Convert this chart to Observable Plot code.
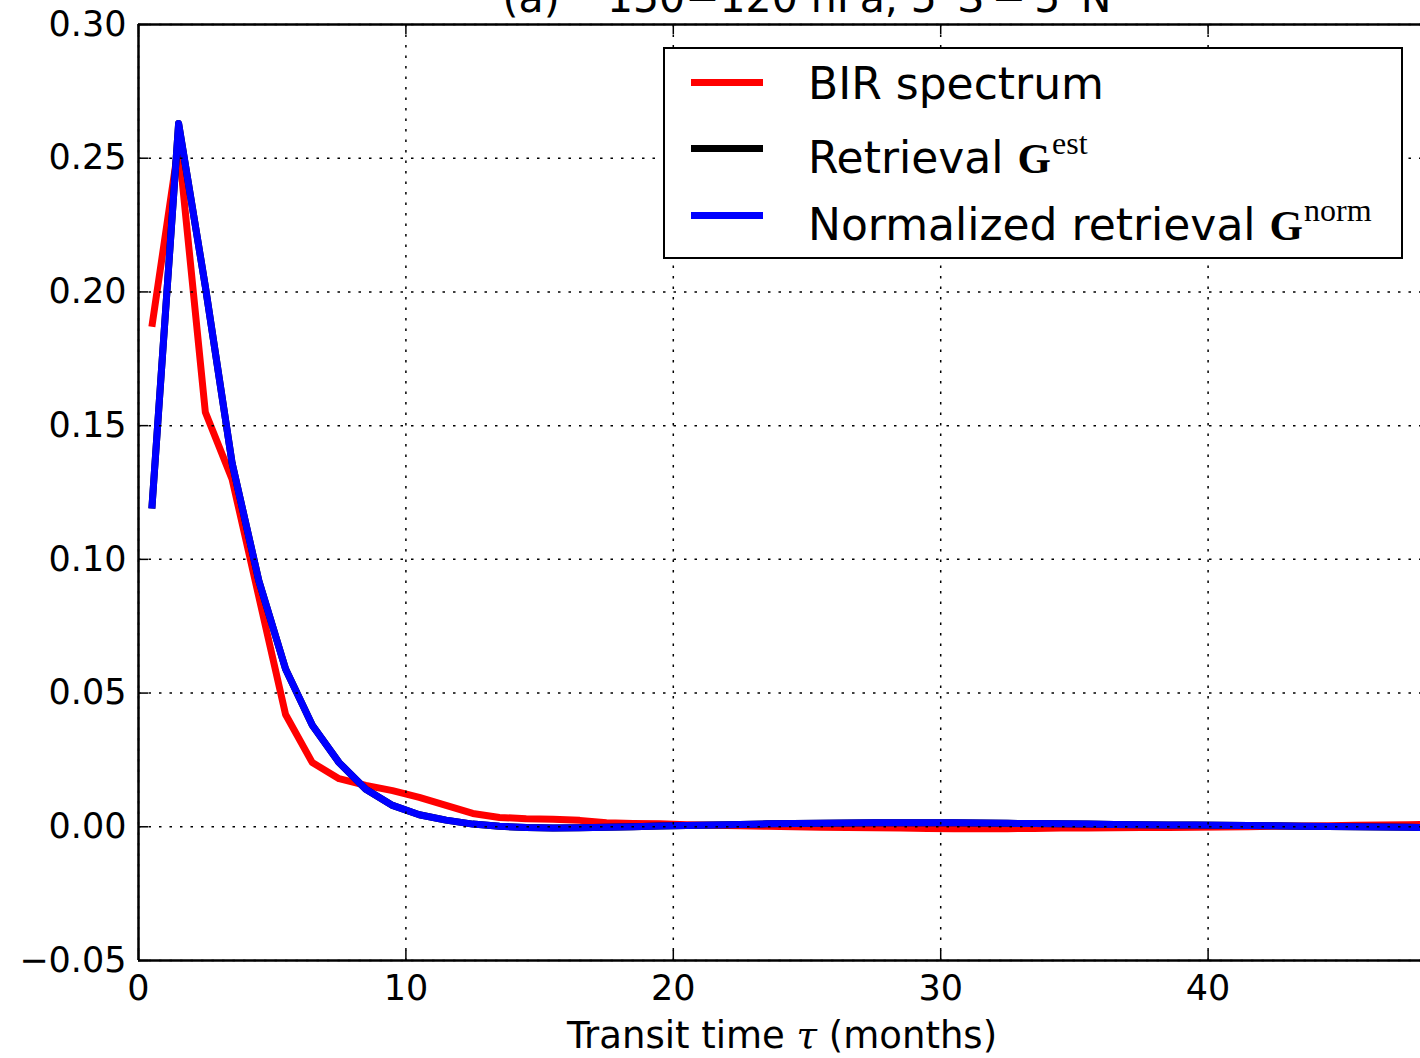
<!DOCTYPE html>
<html>
<head>
<meta charset="utf-8">
<script src="https://cdn.jsdelivr.net/npm/d3@7"></script>
<script src="https://cdn.jsdelivr.net/npm/@observablehq/plot@0.6"></script>
<style>
  html, body { margin: 0; padding: 0; background: #fff; overflow: hidden; width: 1420px; height: 1058px; }
  #wrap { position: relative; width: 1420px; height: 1058px; overflow: hidden; font-family: "DejaVu Sans", sans-serif; }
  #chart { position: absolute; left: 0; top: 0; width: 1480px; }
  #chart svg { max-width: none !important; width: 1480px; height: 1058px; }
  .abs { position: absolute; white-space: nowrap; line-height: 1; }
  #xlabel { font-size: 37px; top: 1017px; left: 782px; transform: translateX(-50%); }
  #xlabel i { font-family: "DejaVu Serif", serif; font-style: italic; }
  #legend { position: absolute; left: 663px; top: 47px; width: 736px; height: 208px; border: 2.5px solid #000; background: #fff; }
  .lg-line { position: absolute; left: 26px; width: 72px; height: 7px; }
  .lg-text { position: absolute; left: 143px; font-size: 44px; line-height: 1; white-space: nowrap; }
  .G { font-family: "Liberation Serif", serif; font-weight: bold; font-size: 43px; margin-left: 14px; }
  .sup { font-family: "Liberation Serif", serif; font-size: 32px; vertical-align: 19px; margin-left: 1px; }
</style>
</head>
<body>
<div id="wrap">
  <div id="chart"></div>
  <div id="xlabel" class="abs">Transit time <i>τ</i> (months)</div>
  <div id="legend"></div>
</div>
<script>
// ---- data ----
const tau = [0.5,1.5,2.5,3.5,4.5,5.5,6.5,7.5,8.5,9.5,10.5,11.5,12.5,13.5,14.5,15.5,16.5,17.5,18.5,19.5,
             20.5,21.5,22.5,23.5,24.5,25.5,26.5,27.5,28.5,29.5,30.5,31.5,32.5,33.5,34.5,35.5,36.5,37.5,38.5,39.5,
             40.5,41.5,42.5,43.5,44.5,45.5,46.5,47.5,48.5,49.5];
const birSpectrum = [0.187,0.255,0.155,0.130,0.086,0.042,0.024,0.018,0.0155,0.0135,0.011,0.008,0.005,0.0035,0.003,0.0028,0.0024,0.0015,0.0012,0.0011,
             0.0008,0.0006,0.0004,0.0002,0.0,-0.0002,-0.0003,-0.0004,-0.0005,-0.0006,-0.0007,-0.0007,-0.0007,-0.0006,-0.0005,-0.0005,-0.0004,-0.0003,-0.0003,-0.0002,
             -0.0001,0.0,0.0002,0.0003,0.0004,0.0006,0.0007,0.0008,0.0009,0.001];
const retrievalEst = [0.119,0.263,0.202,0.136,0.092,0.059,0.038,0.024,0.014,0.008,0.0045,0.0025,0.001,0.0002,-0.0003,-0.0005,-0.0004,-0.0002,0.0,0.0003,
             0.0005,0.0007,0.0009,0.0011,0.0012,0.0013,0.0014,0.0015,0.0015,0.0015,0.0015,0.0014,0.0013,0.0012,0.0011,0.001,0.0009,0.0008,0.0007,0.0007,
             0.0006,0.0005,0.0004,0.0002,0.0001,0.0,-0.0001,-0.0002,-0.0003,-0.0003];
const retrievalNorm = [0.119,0.263,0.202,0.136,0.092,0.059,0.038,0.024,0.014,0.008,0.0045,0.0025,0.001,0.0002,-0.0003,-0.0005,-0.0004,-0.0002,0.0,0.0003,
             0.0005,0.0007,0.0009,0.0011,0.0012,0.0013,0.0014,0.0015,0.0015,0.0015,0.0015,0.0014,0.0013,0.0012,0.0011,0.001,0.0009,0.0008,0.0007,0.0007,
             0.0006,0.0005,0.0004,0.0002,0.0001,0.0,-0.0001,-0.0002,-0.0003,-0.0003];
const xTicks = [0,10,20,30,40];
const yTicks = [-0.05,0.00,0.05,0.10,0.15,0.20,0.25,0.30];
const seriesNames = ["BIR spectrum", "Retrieval", "Normalized retrieval"];
const seriesColors = ["#ff0000", "#000000", "#0000ff"];
const seriesSup = [null, "est", "norm"];
const titleText = "(a)\u00a0\u00a0\u00a0\u2009150\u2212120 hPa, 5\u00b0S\u2009\u2212\u20095\u00b0N";

// ---- layout ----
const W = 1480, H = 1058;
const mL = 138, mR = 5, mT = 24, mB = 98;
const plotW = W - mL - mR, plotH = H - mT - mB;
const tickLen = 10;

const rows = (vals) => tau.map((t, i) => ({t, v: vals[i]}));
const lineOpts = (c) => ({x: "t", y: "v", stroke: c, strokeWidth: 7, strokeLinecap: "butt", strokeLinejoin: "round"});

const chart = Plot.plot({
  width: W, height: H,
  marginLeft: mL, marginRight: mR, marginTop: mT, marginBottom: mB,
  style: {fontFamily: "DejaVu Sans", background: "white", overflow: "visible", maxWidth: "none"},
  x: {domain: [0, 50]},
  y: {domain: [-0.05, 0.30]},
  marks: [
    Plot.line(rows(birSpectrum), lineOpts(seriesColors[0])),
    Plot.line(rows(retrievalEst), lineOpts(seriesColors[1])),
    Plot.line(rows(retrievalNorm), lineOpts(seriesColors[2])),
    // dotted grid
    Plot.ruleX(xTicks, {stroke: "#000", strokeWidth: 1.5, strokeDasharray: "2.5,8"}),
    Plot.ruleY(yTicks, {stroke: "#000", strokeWidth: 1.5, strokeDasharray: "2.5,8"}),
    // inward ticks
    Plot.tickY(yTicks, {y: d => d, insetRight: plotW - tickLen, strokeWidth: 1.5}),
    Plot.tickY(yTicks, {y: d => d, insetLeft: plotW - tickLen, strokeWidth: 1.5}),
    Plot.tickX(xTicks, {x: d => d, insetTop: plotH - tickLen, strokeWidth: 1.5}),
    Plot.tickX(xTicks, {x: d => d, insetBottom: plotH - tickLen, strokeWidth: 1.5}),
    // spines
    Plot.ruleX([0, 50], {stroke: "#000", strokeWidth: 2.5}),
    Plot.ruleY([-0.05, 0.30], {stroke: "#000", strokeWidth: 2.5}),
    // tick labels
    Plot.axisY(yTicks, {tickSize: 0, tickPadding: 12, tickFormat: d3.format(".2f"), fontSize: 35, label: null}),
    Plot.axisX(xTicks, {tickSize: 0, tickPadding: 15, tickFormat: d3.format("d"), fontSize: 35, label: null}),
    // title (clipped by the page top, as in the reference)
    Plot.text([titleText], {frameAnchor: "top", lineAnchor: "bottom", dy: -13, fontSize: 41, fill: "#000"})
  ]
});
document.getElementById("chart").appendChild(chart);

// ---- legend ----
const legend = document.getElementById("legend");
const lineTops = [33, 99, 166];
const textTops = [13, 78, 145];
seriesNames.forEach((name, i) => {
  const ln = document.createElement("div");
  ln.className = "lg-line";
  ln.style.top = (lineTops[i] - 3.5) + "px";
  ln.style.background = seriesColors[i];
  legend.appendChild(ln);
  const tx = document.createElement("div");
  tx.className = "lg-text";
  tx.style.top = textTops[i] + "px";
  tx.appendChild(document.createTextNode(name));
  if (seriesSup[i]) {
    const g = document.createElement("span");
    g.className = "G";
    g.textContent = "G";
    tx.appendChild(g);
    const s = document.createElement("span");
    s.className = "sup";
    s.textContent = seriesSup[i];
    tx.appendChild(s);
  }
  legend.appendChild(tx);
});
</script>
</body>
</html>
